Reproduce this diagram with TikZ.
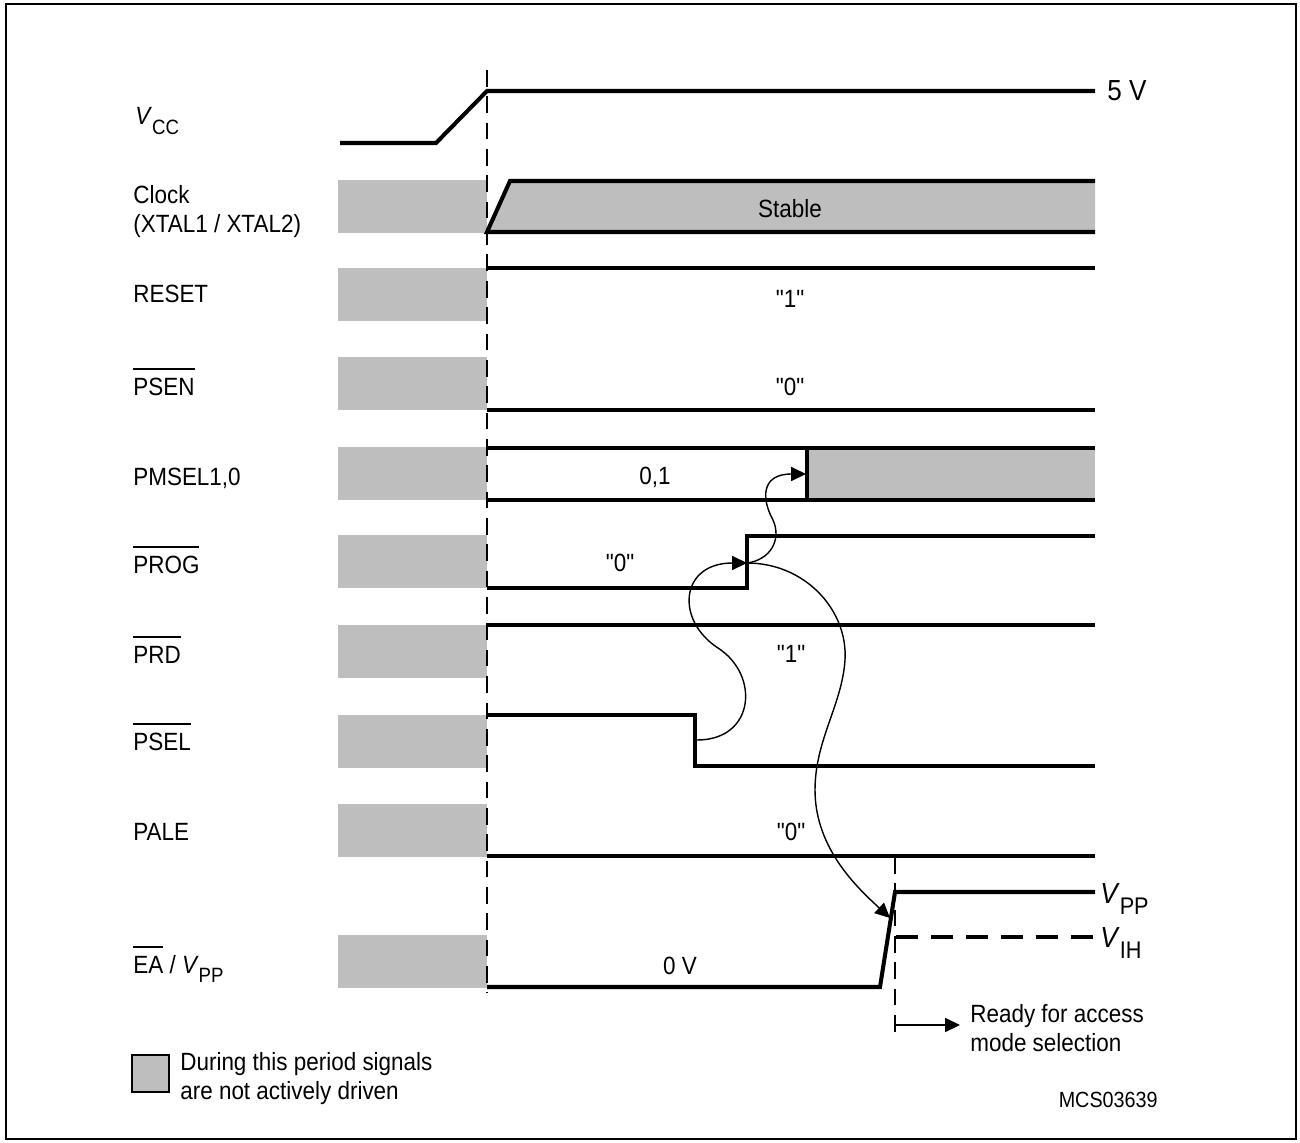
\documentclass[tikz,border=0pt]{standalone}
\usepackage{fontspec}
\setmainfont{Liberation Sans}[FakeStretch=0.9, Ligatures=TeXOff]
\usetikzlibrary{arrows.meta}
\definecolor{idlegray}{HTML}{BEBEBE}
\newcommand\ovl[1]{\setbox0\hbox{#1}\rlap{\raisebox{\dimexpr\ht0+4.3pt\relax}{\rule{\wd0}{1.1pt}}}\box0\relax}
\newcommand\lowidx[1]{\raisebox{-0.4em}{\scalebox{0.83}{#1}}}

\begin{document}
\begin{tikzpicture}[x=0.02cm, y=-0.02cm, font=\fontsize{14.2}{16.8}\selectfont,
  wave/.style={line width=2.3pt},
  marker/.style={line width=0.9pt, dash pattern=on 9.5pt off 5.5pt},
  cause/.style={line width=0.8pt, -{Triangle[length=8.5pt,width=8pt]}},
  lbl/.style={anchor=base west, inner sep=0pt},
  val/.style={anchor=base, inner sep=0pt},
  level/.style={anchor=base west, inner sep=0pt, font=\fontsize{16.5}{18}\selectfont}]

\useasboundingbox (0,0) rectangle (1300,1142);
\draw[line width=1.1pt] (6,4) rectangle (1296,1139);

% Undriven periods
\foreach \t in {180,268,357,447,535,625,715,804,935}
  \fill[idlegray] (338,\t) rectangle (487,\t+53);

% Signal names
\node[lbl] (vcc) at (135,125) {\textit{V}\lowidx{CC}};
\node[lbl] (clk) at (133,203) {\begin{tabular}[t]{@{}l@{}}Clock\\(XTAL1 / XTAL2)\end{tabular}};
\node[lbl] (reset) at (133,302) {RESET};
\node[lbl] (psen) at (133,395) {\ovl{PSEN}};
\node[lbl] (pmsel) at (133,485) {PMSEL1,0};
\node[lbl] (prog) at (133,573) {\ovl{PROG}};
\node[lbl] (prd) at (133,663) {\ovl{PRD}};
\node[lbl] (psel) at (133,750) {\ovl{PSEL}};
\node[lbl] (pale) at (133,840) {PALE};
\node[lbl] (ea) at (133,973) {\ovl{EA} / \textit{V}\lowidx{PP}};

% Waveforms
\draw[wave] (340,143) -- (436,143) -- (487,91) -- (1095,91);
\node[level] (fivev) at (1107,101) {5 V};

\fill[idlegray] (487,232) -- (510,181) -- (1095,181) -- (1095,232) -- cycle;
\draw[wave] (1095,181) -- (510,181) -- (487,232) -- (1095,232);
\node[val] (stable) at (790,217) {Stable};

\draw[wave] (487,268) -- (1095,268);
\node[val] (resetval) at (790,307) {"1"};

\draw[wave] (487,410) -- (1095,410);
\node[val] (psenval) at (790,395) {"0"};

\fill[idlegray] (807,448) rectangle (1095,500);
\draw[wave] (487,448) -- (1095,448) (487,500) -- (1095,500) (807,448) -- (807,500);
\node[val] (pmselval) at (655,484) {0,1};

\draw[wave] (487,588) -- (747,588) -- (747,536) -- (1095,536);
\node[val] (progval) at (620,571) {"0"};

\draw[wave] (487,625) -- (1095,625);
\node[val] (prdval) at (791,662) {"1"};

\draw[wave] (487,715) -- (695,715) -- (695,766) -- (1095,766);

\draw[wave] (487,856) -- (1095,856);
\node[val] (paleval) at (791,840) {"0"};

\draw[wave] (487,987) -- (880,987) -- (895,892) -- (1095,892);
\draw[wave, dash pattern=on 12.5pt off 7.4pt] (896,937) -- (1095,937);
\node[val] (eaval) at (680,974) {0 V};
\node[level] (vpp) at (1100,903) {\textit{V}\lowidx{PP}};
\node[level] (vih) at (1100,947) {\textit{V}\lowidx{IH}};

% Reference lines
\draw[marker] (487,70) -- (487,993);
\draw[marker] (895,857) -- (895,1033);

% Cause and effect
\coordinate (pselfall) at (697,740);
\coordinate (progrise) at (747,563);
\coordinate (pmselchg) at (806,474);
\coordinate (earise) at (890,918);
\draw[cause] (pselfall) .. controls (755,740) and (760,675) .. (718,648) .. controls (675,620) and (680,563) .. (progrise);
\draw[cause] (progrise) .. controls (770,560) and (782,540) .. (773,520) .. controls (762,500) and (760,474) .. (pmselchg);
\draw[cause] (progrise) .. controls (805,563) and (848,610) .. (845,660) .. controls (842,705) and (815,740) .. (815,790) .. controls (815,850) and (860,890) .. (earise);

% Ready
\coordinate (ready) at (896,1025);
\coordinate (readyend) at (960,1025);
\draw[cause] (ready) -- (readyend);
\node[lbl] (readytxt) at (970,1022) {\begin{tabular}[t]{@{}l@{}}Ready for access\\mode selection\end{tabular}};

% Legend
\draw[line width=1pt, fill=idlegray] (132,1055) rectangle (169,1092);
\node[lbl] (legend) at (180,1070) {\begin{tabular}[t]{@{}l@{}}During this period signals\\are not actively driven\end{tabular}};
\node[anchor=base east, inner sep=0pt, font=\fontsize{12.5}{14}\selectfont] (figid) at (1158,1107) {MCS03639};

\end{tikzpicture}
\end{document}
